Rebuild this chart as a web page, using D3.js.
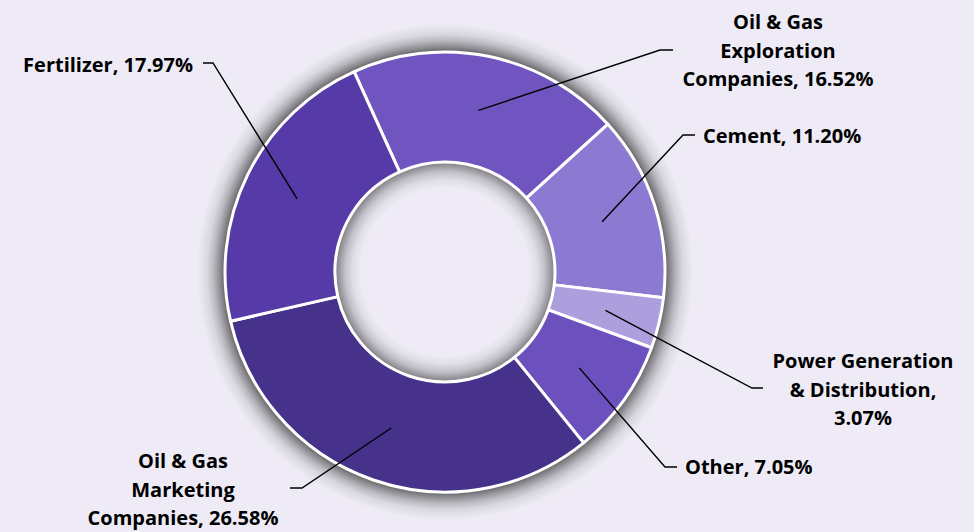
<!DOCTYPE html>
<html>
<head>
<meta charset="utf-8">
<script src="https://cdn.jsdelivr.net/npm/d3@7"></script>
<style>
  html, body { margin: 0; padding: 0; background: #EEEBF6; }
  svg { display: block; }
  .lbl { font-family: "Open Sans", "Lato", sans-serif; font-weight: 700; font-size: 20px; fill: #000; }
</style>
</head>
<body>
<svg id="chart" width="974" height="532"></svg>
<script>
// Sector shares of the portfolio (percent)
const sectors = ["Oil & Gas Exploration Companies", "Cement", "Power Generation & Distribution",
                 "Other", "Oil & Gas Marketing Companies", "Fertilizer"];
const shares  = [16.52, 11.20, 3.07, 7.05, 26.58, 17.97];
// Label text split into lines
const labelLines = [
  ["Oil & Gas", "Exploration", "Companies, 16.52%"],
  ["Cement, 11.20%"],
  ["Power Generation", "& Distribution,", "3.07%"],
  ["Other, 7.05%"],
  ["Oil & Gas", "Marketing", "Companies, 26.58%"],
  ["Fertilizer, 17.97%"]
];
const fills = ["#7055C0", "#8C79D1", "#AD9FDE", "#6C51BE", "#46318B", "#553AA8"];

const W = 974, H = 532;
const cx = 445, cy = 272, rOuter = 220, rInner = 110;

// Label placement relative to the donut centre: text anchor point, anchor side,
// and the elbow where the leader line turns horizontal.
const labelLayout = [
  { tx: 333, ty: -243, anchor: "middle", elbow: [215, -222], end: [228, -222] },
  { tx: 258, ty: -129, anchor: "start",  elbow: [238, -137], end: [250, -137] },
  { tx: 418, ty: 96,   anchor: "middle", elbow: [307, 116],  end: [318, 116] },
  { tx: 240, ty: 202,  anchor: "start",  elbow: [220, 195],  end: [232, 195] },
  { tx: -262, ty: 196, anchor: "middle", elbow: [-143, 216], end: [-155, 216] },
  { tx: -252, ty: -200, anchor: "end",   elbow: [-232, -209], end: [-242, -209] }
];

const svg = d3.select("#chart");
const defs = svg.append("defs");

// Radial shading: a halo outside the ring and an inner shadow in the hole
const haloR = rOuter + 28;
const halo = defs.append("radialGradient").attr("id", "halo")
  .attr("gradientUnits", "userSpaceOnUse").attr("cx", 0).attr("cy", 0).attr("r", haloR);
[[0, 0.78], [rOuter + 1, 0.78], [rOuter + 5, 0.58], [rOuter + 11, 0.32], [rOuter + 18, 0.12], [haloR, 0]]
  .forEach(([r, o]) => halo.append("stop").attr("offset", r / haloR)
    .attr("stop-color", "#444").attr("stop-opacity", o));

const hole = defs.append("radialGradient").attr("id", "hole")
  .attr("gradientUnits", "userSpaceOnUse").attr("cx", 0).attr("cy", 0).attr("r", rInner);
[[0, 0], [rInner - 26, 0], [rInner - 18, 0.08], [rInner - 10, 0.26], [rInner - 4, 0.5], [rInner, 0.68]]
  .forEach(([r, o]) => hole.append("stop").attr("offset", r / rInner)
    .attr("stop-color", "#444").attr("stop-opacity", o));

const g = svg.append("g").attr("transform", `translate(${cx},${cy})`);

// Halo drawn only as an annulus outside the ring, so the hole stays clear
g.append("path")
  .attr("d", d3.arc()({ innerRadius: rOuter - 3, outerRadius: haloR, startAngle: 0, endAngle: 2 * Math.PI }))
  .attr("fill", "url(#halo)");
g.append("circle").attr("cx", 0).attr("cy", 0).attr("r", rInner).attr("fill", "url(#hole)");

const startDeg = -24.4;
const pie = d3.pie().sort(null)
  .startAngle(startDeg * Math.PI / 180)
  .endAngle(startDeg * Math.PI / 180 + 2 * Math.PI)
  .value(d => d);
const arcs = pie(shares);

const arc = d3.arc().innerRadius(rInner).outerRadius(rOuter);
const mid = d3.arc().innerRadius((rInner + rOuter) / 2).outerRadius((rInner + rOuter) / 2);

g.append("g").selectAll("path")
  .data(arcs)
  .join("path")
  .attr("d", arc)
  .attr("fill", (d, i) => fills[i])
  .attr("stroke", "#fff")
  .attr("stroke-width", 3)
  .attr("stroke-linejoin", "round");

// Leader lines from each slice's centroid
g.append("g").selectAll("polyline")
  .data(arcs)
  .join("polyline")
  .attr("points", (d, i) => {
    const c = mid.centroid(d);
    const L = labelLayout[i];
    return [c, L.elbow, L.end].map(p => p.join(",")).join(" ");
  })
  .attr("fill", "none")
  .attr("stroke", "#000")
  .attr("stroke-width", 1.4);

// Labels
const lineH = 28.5;
const labels = g.append("g").selectAll("text")
  .data(arcs)
  .join("text")
  .attr("class", "lbl")
  .attr("text-anchor", (d, i) => labelLayout[i].anchor)
  .attr("x", (d, i) => labelLayout[i].tx)
  .attr("y", (d, i) => labelLayout[i].ty);

labels.each(function(d, i) {
  const t = d3.select(this);
  labelLines[i].forEach((ln, k) => {
    t.append("tspan")
      .attr("x", labelLayout[i].tx)
      .attr("dy", k === 0 ? 0 : lineH)
      .text(ln);
  });
});
</script>
</body>
</html>
